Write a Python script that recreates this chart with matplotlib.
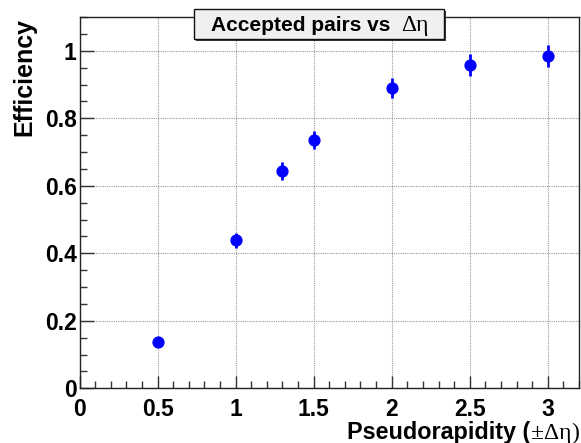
import matplotlib
matplotlib.use("Agg")
import matplotlib.pyplot as plt
from matplotlib.patches import Rectangle
from matplotlib.ticker import MultipleLocator

# datos
eta = [0.5, 1.0, 1.3, 1.5, 2.0, 2.5, 3.0]
eff = [0.138, 0.439, 0.644, 0.735, 0.890, 0.957, 0.984]
err = [0.008, 0.022, 0.026, 0.027, 0.030, 0.032, 0.032]

xticks = [0, 0.5, 1, 1.5, 2, 2.5, 3]
xtick_labels = ["0", "0.5", "1", "1.5", "2", "2.5", "3"]
yticks = [0, 0.2, 0.4, 0.6, 0.8, 1.0]
ytick_labels = ["0", "0.2", "0.4", "0.6", "0.8", "1"]

W, H = 581, 443
plt.rcParams["font.family"] = ["Liberation Sans", "DejaVu Sans"]
plt.rcParams["font.weight"] = "bold"

fig = plt.figure(figsize=(W / 100, H / 100), dpi=100)
ax = fig.add_axes([79.5 / W, 1 - 388.3 / H, (579 - 79.5) / W, (388.3 - 17) / H])

ax.errorbar(eta, eff, yerr=err, fmt="o", color="#0000ff", ms=7.8,
            elinewidth=2, capsize=0, zorder=3)

ax.set_xlim(0, 3.2)
ax.set_ylim(0, 1.1)
ax.set_xticks(xticks)
ax.set_xticklabels(xtick_labels)
ax.set_yticks(yticks)
ax.set_yticklabels(ytick_labels)
ax.xaxis.set_minor_locator(MultipleLocator(0.1))
ax.yaxis.set_minor_locator(MultipleLocator(0.05))

ax.tick_params(axis="both", which="both", direction="in", colors="#333333",
               labelcolor="black", labelsize=16.5)
ax.tick_params(axis="x", which="major", length=9, width=1, pad=7)
ax.tick_params(axis="x", which="minor", length=4.8, width=1)
ax.tick_params(axis="y", which="major", length=10, width=1, pad=2)
ax.tick_params(axis="y", which="minor", length=5, width=1)
for lab in ax.get_xticklabels() + ax.get_yticklabels():
    lab.set_fontweight("bold")

ax.grid(True, which="major", color="#9a9a9a", linestyle=(0, (1, 1)), linewidth=0.8)
for s in ax.spines.values():
    s.set_color("#222222")
    s.set_linewidth(1)

# etiqueta eje y
fig.text(24.4 / W, 1 - 18 / H, "Efficiency", rotation=90, ha="center", va="top",
         fontsize=18, fontweight="bold")

# etiqueta eje x (parte griega en serif)
base_y = 1 - 439.5 / H
p_close = fig.text(579 / W, base_y, ")", ha="right", va="baseline",
                   fontsize=17, fontweight="normal", family="Liberation Serif")
p_greek = ax.annotate("\u00b1\u0394\u03b7", xy=(0, 0), xycoords=p_close,
                      ha="right", va="bottom", fontsize=17, fontweight="normal",
                      family="Liberation Serif", annotation_clip=False)
ax.annotate("Pseudorapidity (", xy=(0, 0), xycoords=p_greek,
            ha="right", va="bottom", fontsize=16.8, fontweight="bold",
            annotation_clip=False)

# caja del titulo
bx0, bx1, by0, by1 = 194, 444, 9.3, 39
shadow = Rectangle(((bx0 + 2) / W, 1 - (by1 + 2) / H), (bx1 - bx0) / W, (by1 - by0) / H,
                   transform=fig.transFigure, facecolor="#3a3a3a", edgecolor="none", zorder=5)
box = Rectangle((bx0 / W, 1 - by1 / H), (bx1 - bx0) / W, (by1 - by0) / H,
                transform=fig.transFigure, facecolor="#f0f0f0", edgecolor="#111111",
                linewidth=1, zorder=6)
fig.patches.extend([shadow, box])
fig.text(210.7 / W, 1 - 30.7 / H, "Accepted pairs vs", ha="left", va="baseline",
         fontsize=15, fontweight="bold", zorder=7)
fig.text(400.7 / W, 1 - 30.7 / H, "\u0394\u03b7", ha="left", va="baseline",
         fontsize=17, fontweight="normal", family="Liberation Serif", zorder=7)

plt.savefig("out.png", dpi=100)
